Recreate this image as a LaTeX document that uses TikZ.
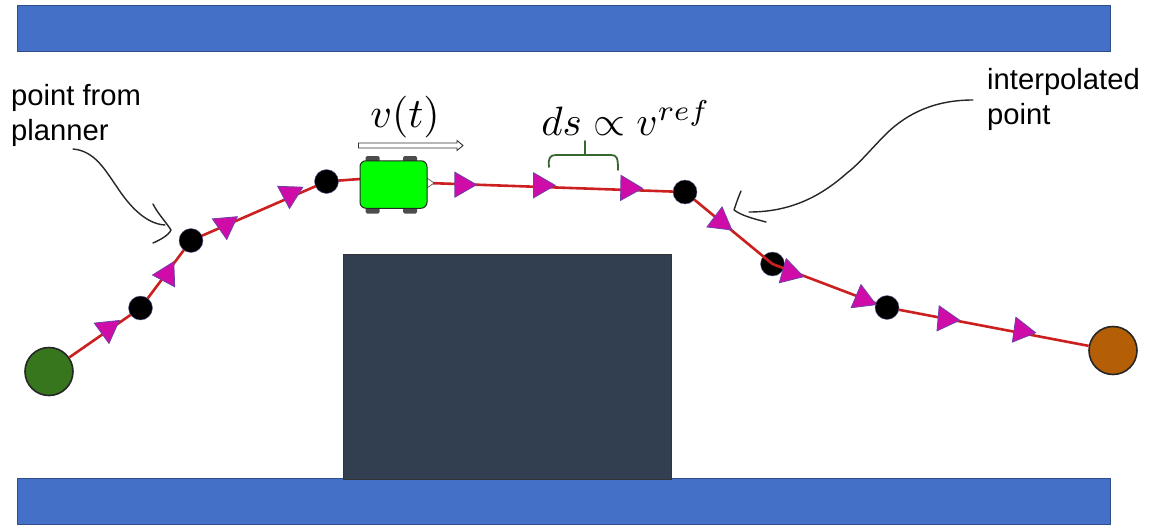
\documentclass[tikz,border=0pt]{standalone}
\usepackage{amsmath}
\usepackage{fontspec}
\setmainfont{Liberation Sans}
\usetikzlibrary{shapes.geometric}
\definecolor{barblue}{HTML}{4570C8}
\definecolor{obst}{HTML}{323F50}
\definecolor{startg}{HTML}{38761D}
\definecolor{goalo}{HTML}{B45F06}
\definecolor{pathred}{HTML}{CC1F1F}
\definecolor{mag}{HTML}{D00CA8}
\definecolor{magedge}{HTML}{6F3FA8}
\definecolor{bracegreen}{HTML}{38662F}
\definecolor{carg}{HTML}{00FF00}
\tikzset{
  x=1pt,y=-1pt,
  bar/.style={draw=barblue!70!black,line width=.5pt,fill=barblue,minimum width=1093pt,minimum height=46pt,inner sep=0,outer sep=0},
  endpt/.style={circle,draw=black!85,line width=1.6pt,minimum size=48pt,inner sep=0},
  wp/.style={circle,fill=black,draw=black!60!blue!60,line width=.4pt,minimum size=24pt,inner sep=0},
  tri/.style={regular polygon,regular polygon sides=3,fill=mag,draw=magedge,line width=.8pt,minimum size=29pt,inner sep=0,shape border rotate=#1-90},
  redline/.style={draw=pathred,line width=2.6pt},
  label/.style={font=\fontsize{29.2}{35}\selectfont,align=left,anchor=north west,inner sep=0},
  mathlabel/.style={scale=4.1,inner sep=0},
  hand/.style={draw=black!85,line width=1.4pt,line cap=round,line join=round},
  wheel/.style={fill=black!70,rounded corners=1.5pt,minimum width=14pt,minimum height=6pt,inner sep=0},
}
\begin{document}
\begin{tikzpicture}
\useasboundingbox (0,0) rectangle (1151,525);
\node[bar] (top) at (563.5,28) {};
\node[bar] (bottom) at (563.5,501) {};
\node[draw=black!80,line width=.6pt,fill=obst,minimum width=328pt,minimum height=225pt,inner sep=0] (obstacle) at (507,366.5) {};
% waypoints and end points
\node[endpt,fill=startg] (start) at (49,371.5) {};
\node[endpt,fill=goalo] (goal) at (1113,350.5) {};
\coordinate (b1c) at (140.5,308);
\coordinate (b2c) at (191,240.5);
\coordinate (b3c) at (326.5,181.5);
\coordinate (b4c) at (685,192);
\coordinate (b5c) at (772.5,264);
\coordinate (b6c) at (887,307.5);
\node[wp] (b5) at (b5c) {};
% path
\draw[redline] (start) -- (b1c) -- (b2c) -- (b3c) -- (360,179) -- (428,183) -- (b4c) -- (b5c) -- (b6c) -- (goal);
\node[wp] (b1) at (b1c) {};
\node[wp] (b2) at (b2c) {};
\node[wp] (b3) at (b3c) {};
\node[wp] (b4) at (b4c) {};
\node[wp] (b6) at (b6c) {};
% direction triangles
\node[tri=36] (t1) at (107.5,329) {};
\node[tri=62] (t2) at (167,274.5) {};
\node[tri=35] (t3) at (225.5,225) {};
\node[tri=28] (t4) at (290,194) {};
\node[tri=0] (t5) at (462,184.7) {};
\node[tri=0] (t6) at (540.7,185.3) {};
\node[tri=-1] (t7) at (628,188) {};
\node[tri=-37] (t8) at (720.3,221.3) {};
\node[tri=-16] (t9) at (789.7,272.7) {};
\node[tri=-23] (t10) at (862.7,299) {};
\node[tri=-5] (t11) at (945.3,319) {};
\node[tri=-8] (t12) at (1021.3,330.7) {};
% car
\node[wheel] (w1) at (372.5,159) {};
\node[wheel] (w2) at (410,159) {};
\node[wheel] (w3) at (372.5,210.5) {};
\node[wheel] (w4) at (410,210.5) {};
\fill[white,draw=black!70,line width=.6pt] (427,178) -- (434,183) -- (427,188) -- cycle;
\node[draw=black!85,line width=1pt,fill=carg,rounded corners=6pt,minimum width=67pt,minimum height=47.5pt,inner sep=0] (car) at (393.5,184.5) {};
% velocity arrow
\draw[draw=black!80,fill=white,line width=.9pt,line join=miter]
  (358.5,143) -- (457,143) -- (457,140.5) -- (463,145.5) -- (457,150.5) -- (457,148) -- (358.5,148) -- cycle;
\node[mathlabel,scale=1.02] (vt) at (405,117) {$v(t)$};
\node[mathlabel] (ds) at (626,118) {$ds \propto v^{ref}$};
% brace
\draw[draw=bracegreen,line width=1.8pt,line cap=round]
  (549,167) .. controls (548,158) and (550,155) .. (556,155) -- (611,155)
  .. controls (617,155) and (618,158) .. (618,170);
\draw[draw=bracegreen,line width=1.8pt,line cap=round] (585,155) -- (585,141);
% labels
\node[label] (lp) at (11,84) {point from\\planner};
\node[label] (li) at (987,68) {interpolated\\point};
% hand drawn arrows
\draw[hand] (73,149) .. controls (95,151) and (105,170) .. (117,187) .. controls (128,204) and (145,224) .. (165,225);
\draw[hand] (153,204) .. controls (158,214) and (166,222) .. (171,230) .. controls (169,235) and (160,240) .. (153,243);
\draw[hand] (973,100) .. controls (935,100) and (908,113) .. (887,133) .. controls (870,150) and (860,163) .. (847,173) .. controls (820,197) and (790,212) .. (749,212);
\draw[hand] (741,191) .. controls (738,198) and (736,204) .. (734,210) .. controls (742,216) and (755,219) .. (766,222);
\end{tikzpicture}
\end{document}
